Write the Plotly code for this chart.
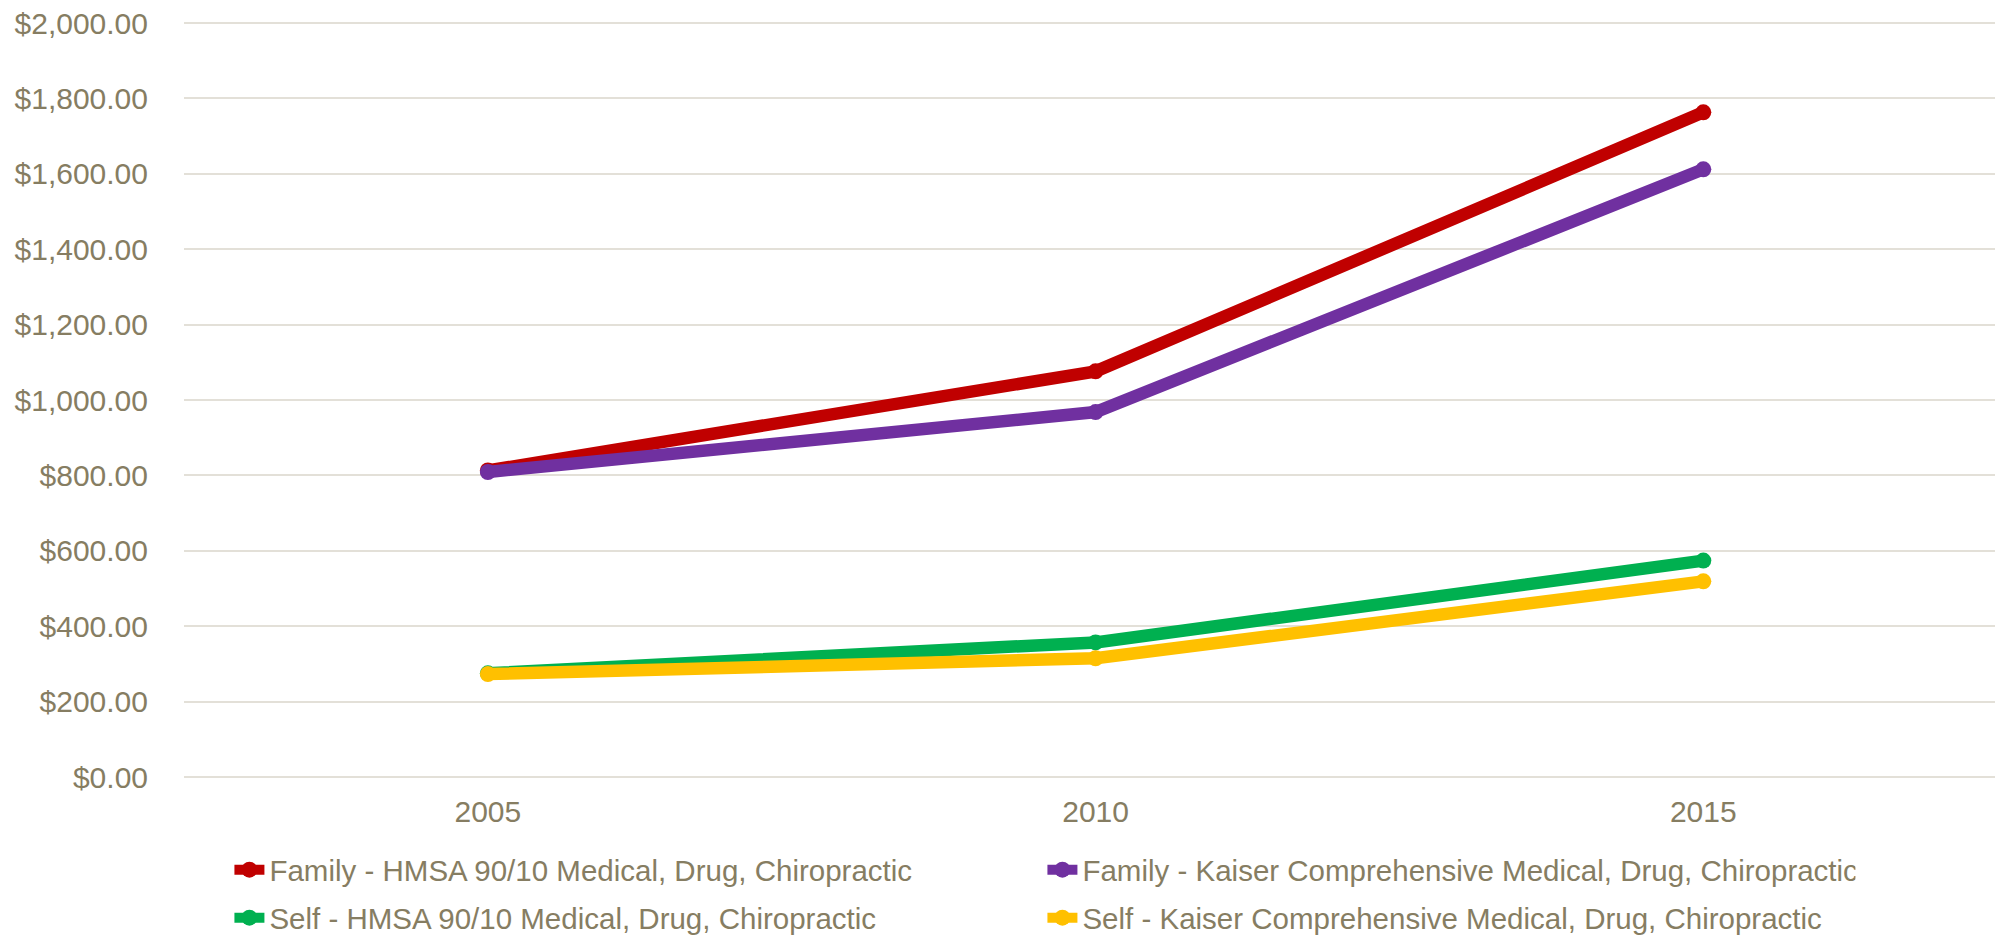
import plotly.graph_objects as go

years = ["2005", "2010", "2015"]
family_hmsa = [813, 1076, 1763]
family_kaiser = [809, 968, 1612]
self_hmsa = [275, 357, 574]
self_kaiser = [273, 315, 519]

names = [
    "Family - HMSA 90/10 Medical, Drug, Chiropractic",
    "Family - Kaiser Comprehensive Medical, Drug, Chiropractic",
    "Self - HMSA 90/10 Medical, Drug, Chiropractic",
    "Self - Kaiser Comprehensive Medical, Drug, Chiropractic",
]
colors = ["#C00000", "#7030A0", "#00B050", "#FFC000"]
series = [family_hmsa, family_kaiser, self_hmsa, self_kaiser]
legends = ["legend", "legend", "legend2", "legend2"]

TEXT = "#867D62"
GRID = "#E3E0D8"
FONT = "Liberation Sans, Arial, sans-serif"

fig = go.Figure()
for name, col, vals, lg in zip(names, colors, series, legends):
    fig.add_trace(go.Scatter(
        x=years, y=vals, name=name, mode="lines+markers",
        line=dict(color=col, width=12.5),
        marker=dict(color=col, size=16),
        legend=lg,
    ))

legend_common = dict(
    orientation="h", xref="container", yref="container",
    x=0.115, xanchor="left", yanchor="middle",
    entrywidth=768, entrywidthmode="pixels",
    font=dict(family=FONT, size=29.5, color=TEXT),
    bgcolor="rgba(0,0,0,0)", borderwidth=0,
)

fig.update_layout(
    width=1995, height=937,
    paper_bgcolor="white", plot_bgcolor="white",
    margin=dict(l=184, r=0, t=20, b=160),
    font=dict(family=FONT, size=30, color=TEXT),
    showlegend=True,
    legend=dict(legend_common, y=1 - 870 / 937),
    legend2=dict(legend_common, y=1 - 918 / 937),
    xaxis=dict(
        type="category", range=[-0.5, 2.48],
        showgrid=False, zeroline=False, showline=False,
        ticks="", ticklabelstandoff=14,
        tickfont=dict(family=FONT, size=30, color=TEXT),
    ),
    yaxis=dict(
        range=[0, 2008], tick0=0, dtick=200, tickformat="$,.2f",
        showgrid=True, gridcolor=GRID, gridwidth=2,
        zeroline=True, zerolinecolor=GRID, zerolinewidth=2,
        showline=False, ticks="", ticklabelstandoff=35,
        tickfont=dict(family=FONT, size=30, color=TEXT),
    ),
)

fig.write_html(
    "out.html",
    config={"displayModeBar": False},
    post_script="document.body.style.margin='0';document.body.style.overflow='hidden';",
)
